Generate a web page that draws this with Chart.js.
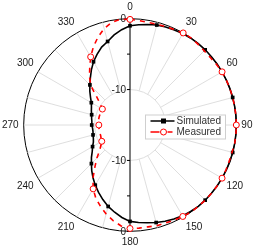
<!DOCTYPE html>
<html>
<head>
<meta charset="utf-8">
<script src="https://cdn.jsdelivr.net/npm/chart.js@4.4.0/dist/chart.umd.min.js"></script>
<style>
  body { margin: 0; background: #fff; }
  #wrap { width: 256px; height: 251px; }
</style>
</head>
<body>
<div id="wrap"><canvas id="polar" width="256" height="251"></canvas></div>
<script>
// angle categories (deg), 5 degree steps
const angles = [0, 5, 10, 15, 20, 25, 30, 35, 40, 45, 50, 55, 60, 65, 70, 75, 80, 85,
  90, 95, 100, 105, 110, 115, 120, 125, 130, 135, 140, 145, 150, 155, 160, 165, 170, 175,
  180, 185, 190, 195, 200, 205, 210, 215, 220, 225, 230, 235, 240, 245, 250, 255, 260, 265,
  270, 275, 280, 285, 290, 295, 300, 305, 310, 315, 320, 325, 330, 335, 340, 345, 350, 355];

// dB values
const simulated = [-1.0, -0.8, -0.6, -0.4, -0.3, -0.2, -0.1, -0.05, 0, 0, 0, 0, 0, 0, 0, 0, 0, 0,
  0, 0, 0, 0, 0, 0, 0, 0, 0, 0, 0, -0.1, -0.2, -0.35, -0.55, -0.75, -1.0, -1.2,
  -1.4, -1.9, -2.5, -3.1, -3.8, -4.5, -5.2, -5.9, -6.6, -7.3, -7.9, -8.5, -8.9, -9.3, -9.5, -9.6, -9.7, -9.7,
  -9.6, -9.6, -9.5, -9.4, -9.2, -9.0, -8.7, -8.2, -7.6, -7.0, -6.3, -5.5, -4.7, -4.0, -3.3, -2.8, -2.1, -1.5];

const measured = [-0.1, -0.2, -0.3, -0.3, -0.25, -0.15, 0, 0, -0.1, -0.2, -0.2, -0.1, 0, 0, 0, 0, 0, 0,
  0, 0, 0, -0.1, -0.1, -0.05, 0, 0, 0, 0, 0, 0, -0.1, -0.2, -0.3, -0.3, -0.4, -0.4,
  -0.4, -0.7, -1.3, -2.0, -2.8, -3.6, -4.6, -5.9, -7.3, -8.4, -9.4, -10.0, -10.4, -10.5, -10.6, -10.6, -10.6, -10.6,
  -10.6, -10.6, -10.5, -10.5, -10.5, -10.5, -10.5, -9.9, -8.9, -7.2, -6.1, -5.1, -3.9, -2.8, -1.8, -0.9, -0.3, 0];

const angleTicks = [0, 30, 60, 90, 120, 150, 180, 210, 240, 270, 300, 330];
const gridAngles = [0, 15, 30, 45, 60, 75, 90, 105, 120, 135, 150, 165,
  180, 195, 210, 225, 240, 255, 270, 285, 300, 315, 330, 345];
const radialLabels = [0, -10];
const radialMarks = [0, -5, -10];
const seriesNames = ['Simulated', 'Measured'];

const FONT = "'Liberation Sans', Arial, sans-serif";

const polarDecor = {
  id: 'polarDecor',
  beforeDatasetsDraw(chart) {
    const r = chart.scales.r;
    const ctx = chart.ctx;
    ctx.save();
    // light spokes from -10 dB out to the rim
    ctx.strokeStyle = '#d6d6d6';
    ctx.lineWidth = 0.8;
    gridAngles.forEach(a => {
      const i = angles.indexOf(a);
      const p1 = r.getPointPositionForValue(i, -10);
      const p2 = r.getPointPositionForValue(i, 0);
      ctx.beginPath();
      ctx.moveTo(p1.x, p1.y);
      ctx.lineTo(p2.x, p2.y);
      ctx.stroke();
    });
    // radial axis through the centre
    const top = r.getPointPositionForValue(angles.indexOf(0), 0);
    const bot = r.getPointPositionForValue(angles.indexOf(180), 0);
    ctx.strokeStyle = '#000';
    ctx.lineWidth = 1;
    ctx.beginPath();
    ctx.moveTo(top.x, top.y);
    ctx.lineTo(bot.x, bot.y);
    ctx.stroke();
    // tick marks and labels, both halves
    ctx.font = '10px ' + FONT;
    ctx.fillStyle = '#1a1a1a';
    ctx.textAlign = 'right';
    ctx.textBaseline = 'middle';
    [0, 180].forEach(a => {
      const i = angles.indexOf(a);
      radialMarks.forEach(v => {
        const p = r.getPointPositionForValue(i, v);
        ctx.beginPath();
        ctx.moveTo(p.x - 3, p.y);
        ctx.lineTo(p.x, p.y);
        ctx.stroke();
      });
      radialLabels.forEach(v => {
        const p = r.getPointPositionForValue(i, v);
        ctx.fillText(String(v), p.x - 4, p.y + 0.5);
      });
    });
    ctx.restore();
  },
  afterDraw(chart) {
    const r = chart.scales.r;
    const ctx = chart.ctx;
    const x0 = r.xCenter + 15.5, y0 = r.yCenter - 10;
    ctx.save();
    ctx.fillStyle = '#fff';
    ctx.strokeStyle = '#cfcfcf';
    ctx.lineWidth = 1;
    ctx.fillRect(x0, y0, 80, 24);
    ctx.strokeRect(x0, y0, 80, 24);
    ctx.font = '10px ' + FONT;
    ctx.textBaseline = 'middle';
    ctx.textAlign = 'left';
    chart.data.datasets.forEach((ds, k) => {
      const y = y0 + 6 + k * 11;
      ctx.strokeStyle = ds.borderColor;
      ctx.lineWidth = 1.5;
      ctx.setLineDash([]);
      ctx.beginPath();
      if (k === 0) {
        ctx.moveTo(x0 + 5, y); ctx.lineTo(x0 + 29, y);
      } else {
        ctx.moveTo(x0 + 5, y); ctx.lineTo(x0 + 14, y);
        ctx.moveTo(x0 + 22, y); ctx.lineTo(x0 + 27, y);
      }
      ctx.stroke();
      ctx.lineWidth = 1;
      ctx.fillStyle = ds.pointBackgroundColor;
      if (k === 0) {
        ctx.fillRect(x0 + 15.5, y - 2.5, 5, 5);
      } else {
        ctx.beginPath();
        ctx.arc(x0 + 18, y, 3, 0, Math.PI * 2);
        ctx.fill();
        ctx.strokeStyle = ds.pointBorderColor;
        ctx.stroke();
      }
      ctx.fillStyle = '#333';
      ctx.fillText(ds.label, x0 + 31, y + 0.5);
    });
    ctx.restore();
  }
};

new Chart(document.getElementById('polar').getContext('2d'), {
  type: 'radar',
  data: {
    labels: angles,
    datasets: [{
      label: seriesNames[0],
      data: simulated,
      order: 1,
      fill: false,
      borderColor: '#000',
      borderWidth: 1.6,
      tension: 0,
      pointStyle: 'rect',
      pointRadius: ctx => (angles[ctx.dataIndex] % 15 === 0 ? 2.6 : 0),
      pointBackgroundColor: '#000',
      pointBorderColor: '#000',
      pointBorderWidth: 0
    }, {
      label: seriesNames[1],
      data: measured,
      order: 0,
      fill: false,
      borderColor: '#ff0000',
      borderWidth: 1.6,
      borderDash: [5, 5],
      tension: 0,
      pointStyle: 'circle',
      pointRadius: ctx => (angles[ctx.dataIndex] % 30 === 0 ? 3 : 0),
      pointBackgroundColor: '#fff',
      pointBorderColor: '#ff0000',
      pointBorderWidth: 1
    }]
  },
  options: {
    responsive: false,
    animation: false,
    plugins: { legend: { display: false }, tooltip: { enabled: false } },
    layout: { padding: 0 },
    scales: {
      r: {
        min: -15,
        max: 0,
        startAngle: 0,
        ticks: { stepSize: 5, display: false },
        angleLines: { display: false },
        grid: {
          circular: true,
          color: ctx => (ctx.tick && ctx.tick.value === 0 ? '#000' : ctx.tick && ctx.tick.value === -10 ? '#d6d6d6' : 'rgba(0,0,0,0)'),
          lineWidth: ctx => (ctx.tick && ctx.tick.value === 0 ? 1 : 0.8)
        },
        pointLabels: {
          display: true,
          padding: 5,
          color: '#1a1a1a',
          font: { size: 10, family: FONT },
          callback: v => (angleTicks.includes(v) ? String(v) : '')
        }
      }
    }
  },
  plugins: [polarDecor]
});
</script>
</body>
</html>
